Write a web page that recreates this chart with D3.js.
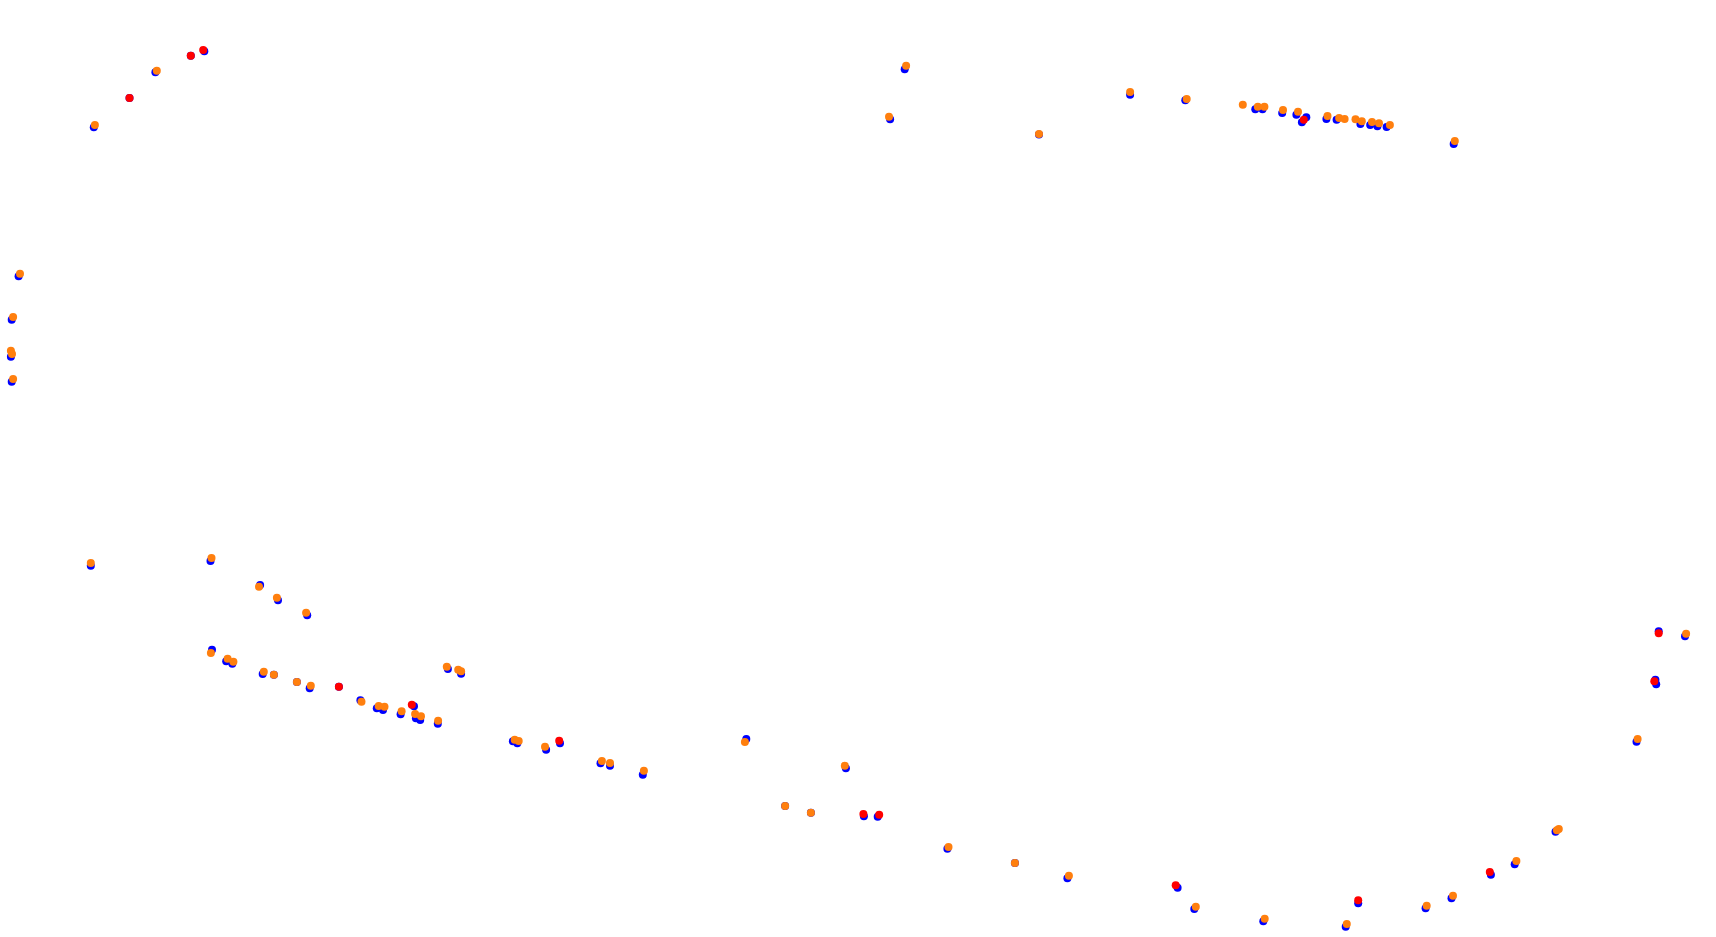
<!DOCTYPE html>
<html>
<head>
<meta charset="utf-8">
<script src="https://cdn.jsdelivr.net/npm/d3@7"></script>
<style>
html,body{margin:0;padding:0;background:#fff;overflow:hidden;}
svg{display:block;}
</style>
</head>
<body>
<script>
// Track positions (arbitrary track units) for three series
const blueX = [204.3,190.8,129.5,155.4,93.8,18.6,904.7,890.1,1130.1,1039.0,
  1185.3,1255.3,1262.5,1282.2,1296.4,1301.9,1306.3,1326.4,1336.6,1360.4,1370.2,1377.4,1386.6,1453.7,
  11.7,10.9,11.7,
  90.8,210.5,260.1,278.0,307.2,212.0,226.2,232.3,262.7,273.9,296.9,309.7,338.9,360.4,376.8,383.0,400.6,414.0,415.9,420.2,437.8,447.9,461.1,512.9,517.3,546.1,560.0,
  600.5,610.0,642.8,746.3,845.9,785.1,810.9,863.9,877.7,947.4,1014.9,1067.4,
  1177.6,1194.3,1263.3,1358.2,1345.7,1425.6,1451.5,1490.9,1514.7,1555.5,1636.5,1655.4,1656.2,1658.7,1685.0];
const blueY = [52.3,56.7,99,73.3,128.3,277.3,70.3,120.3,95.7,135.5,
  101.3,110.3,110.3,114,115.7,123.3,118.3,120,120.7,125,126,127.3,128,145,
  320.7,357.7,382.7,
  566.7,562,586,601.3,616.3,650.7,662.3,664.7,675,675.7,683,689.3,687.7,701.3,709.3,711,715.3,707.3,719.3,721,724.7,670,674.7,742.3,744.3,750.7,744.3,
  764.3,766.7,775.7,740,769.3,807,813.7,817.3,817.7,849.7,864,879.3,
  888.7,910,922.3,904.3,927.7,909.3,899.3,875.7,865.3,832.7,742.7,680.7,685.3,632.3,637.3];

const redX = [203.2,190.8,129.5,1303.8,338.9,411.8,559.2,863.4,879.2,1175.7,1358.2,1489.8,1654.3,1658.7];
const redY = [51,56.7,99,120.7,687.7,705.7,741.7,815,815.7,886.3,901.3,873,682.3,634.3];

const orangeX = [156.8,94.9,20.0,906.1,889.0,1039.0,1130.1,
  1186.7,1242.8,1257.8,1264.4,1283.0,1298.0,1327.5,1339.1,1344.6,1355.5,1361.8,1372.0,1379.0,1389.9,1454.8,
  13.1,10.9,12.0,13.1,
  90.8,211.5,259.0,276.9,306.1,210.9,227.6,233.4,263.8,273.9,296.9,310.8,361.5,378.7,384.5,401.6,415.1,421.0,438.1,446.8,458.2,461.1,514.7,518.7,545.0,
  601.9,610.0,643.9,744.9,844.8,785.1,810.9,948.5,1014.9,1068.9,
  1195.8,1264.7,1346.8,1426.7,1453.0,1516.4,1558.8,1556.9,1637.6,1686.1];
const orangeY = [71.7,126,274.7,66.7,117.7,135,93,
  100,105.7,107.7,107.7,111,112.7,117,119,120,120.3,122.3,123,124.3,126,142,
  318,351.7,355,380,
  564,559,587.7,598.7,613.7,654,659.7,662.7,672.7,675.7,683,686.7,702.7,707,707.7,712.3,715,717.3,721.7,667.7,670.7,672.3,740.7,742,747.7,
  762,764,771.7,743,766.7,807,813.7,848,864,876.7,
  907.7,919.7,925,906.7,896.7,862,830,831.3,740,634.7];

const seriesNames = ["blue","red","orange"];
const seriesColors = ["#0000ff","#ff0000","#ff7f0e"];

const W = 1716, H = 937;
const svg = d3.select("body").append("svg").attr("width", W).attr("height", H);

const x = d3.scaleLinear().domain([0, 1716]).range([0, W]);
const y = d3.scaleLinear().domain([0, 937]).range([-1, H - 1]);

const series = [
  {name: seriesNames[0], color: seriesColors[0], pts: d3.zip(blueX, blueY)},
  {name: seriesNames[1], color: seriesColors[1], pts: d3.zip(redX, redY)},
  {name: seriesNames[2], color: seriesColors[2], pts: d3.zip(orangeX, orangeY)}
];

series.forEach(s => {
  svg.append("g").attr("class", s.name)
    .selectAll("circle").data(s.pts).join("circle")
    .attr("cx", d => x(d[0]))
    .attr("cy", d => y(d[1]))
    .attr("r", 4)
    .attr("fill", s.color);
});
</script>
</body>
</html>
